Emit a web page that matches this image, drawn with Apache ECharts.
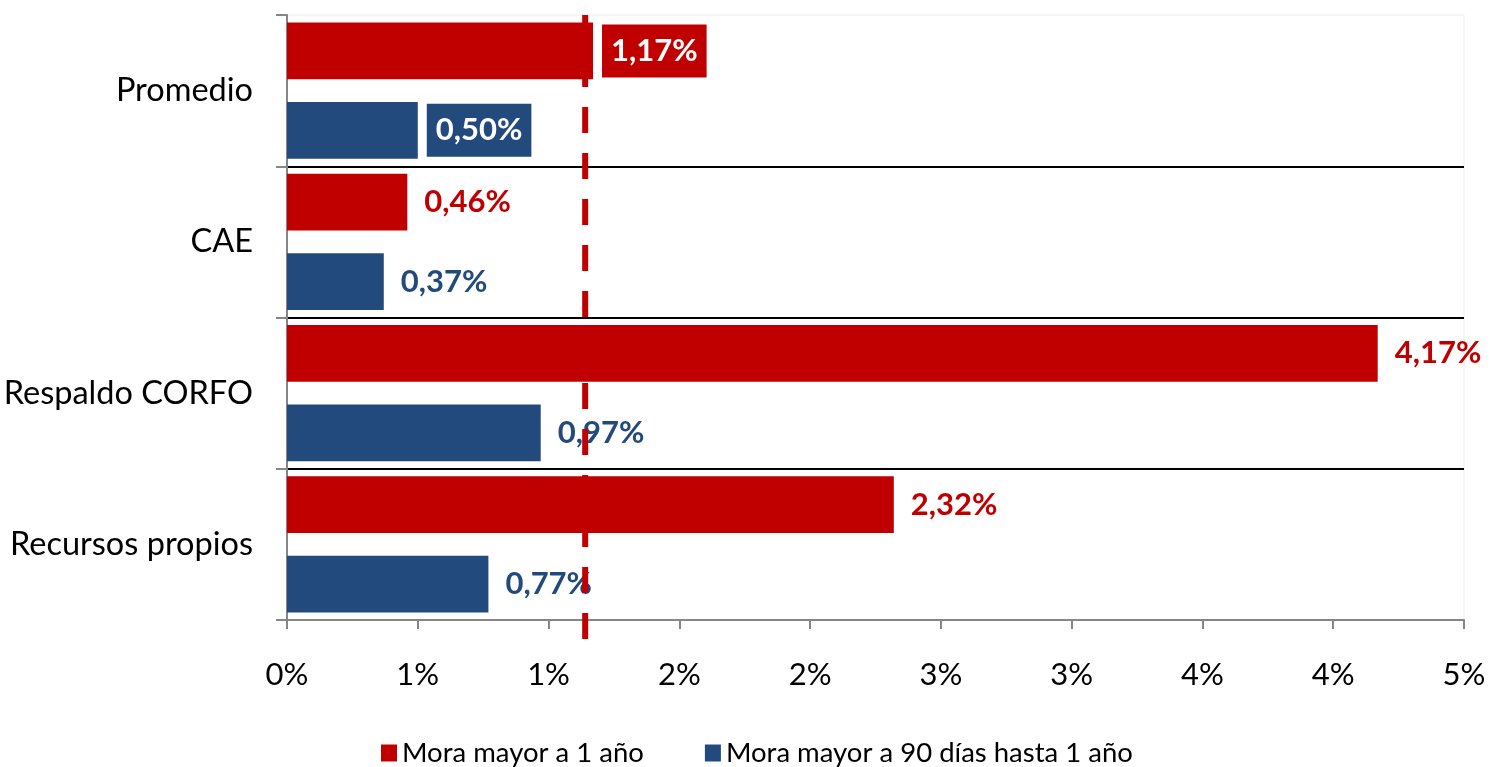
<!DOCTYPE html>
<html>
<head>
<meta charset="utf-8">
<script src="https://cdn.jsdelivr.net/npm/echarts@6/dist/echarts.min.js"></script>
<style>
  html, body { margin: 0; padding: 0; background: #fff; }
  #chart { width: 1490px; height: 767px; }
</style>
</head>
<body>
<div id="chart"></div>
<script>
// data
const categories = ["Promedio", "CAE", "Respaldo CORFO", "Recursos propios"];
const moraMayor1Ano = [1.17, 0.46, 4.17, 2.32];
const mora90Dias = [0.50, 0.37, 0.97, 0.77];
const referenceLine = 1.14;
const xTickLabels = ["0%", "1%", "1%", "2%", "2%", "3%", "3%", "4%", "4%", "5%"];
const seriesNames = ["Mora mayor a 1 año", "Mora mayor a 90 días hasta 1 año"];

const RED = "#c00000";
const BLUE = "#234a7c";
const GRAY = "#868686";
const FONT = "Lato";

const pct = (v) => v.toFixed(2).replace(".", ",") + "%";

// first row (Promedio) gets a filled label box
function barData(values, color) {
  return values.map((v, i) =>
    i === 0
      ? { value: v, label: { color: "#fff", backgroundColor: color, padding: [11, 9, 11, 9], distance: 9 } }
      : v
  );
}

function barSeries(name, values, color) {
  return {
    name: name,
    type: "bar",
    xAxisIndex: 0,
    yAxisIndex: 0,
    data: barData(values, color),
    barCategoryGap: "10%",
    barGap: "40%",
    itemStyle: { color: color },
    label: {
      show: true,
      position: "right",
      distance: 17,
      fontFamily: FONT,
      fontSize: 31,
      fontWeight: "bold",
      color: color,
      formatter: (p) => pct(p.value),
    },
  };
}

const chart = echarts.init(document.getElementById("chart"));

chart.setOption({
  animation: false,
  textStyle: { fontFamily: FONT },
  legend: {
    data: seriesNames,
    top: 739,
    left: 381,
    padding: 0,
    icon: "rect",
    itemWidth: 16,
    itemHeight: 17,
    itemGap: 61,
    textStyle: { fontFamily: FONT, fontSize: 27.5, color: "#000" },
  },
  grid: [
    { left: 287, right: 26, top: 15, bottom: 147, show: true, borderColor: "#ececec", borderWidth: 1 },
    { left: 287, right: 26, top: 15, bottom: 125 },
  ],
  xAxis: [
    {
      type: "value",
      gridIndex: 0,
      min: 0,
      max: 4.5,
      interval: 0.5,
      axisLine: { show: true, lineStyle: { color: GRAY, width: 2 } },
      axisTick: { show: true, length: 9, lineStyle: { color: GRAY, width: 2 } },
      splitLine: { show: false },
      axisLabel: {
        margin: 39,
        fontFamily: FONT,
        fontSize: 31,
        color: "#000",
        formatter: (v) => xTickLabels[Math.round(v / 0.5)],
      },
    },
    { type: "value", gridIndex: 1, min: 0, max: 4.5, show: false },
  ],
  yAxis: [
    {
      type: "category",
      gridIndex: 0,
      data: categories,
      inverse: true,
      axisLine: { show: true, lineStyle: { color: GRAY, width: 2 } },
      axisTick: { show: true, length: 11, lineStyle: { color: GRAY, width: 2 } },
      splitLine: { show: true, interval: (i) => i > 0, lineStyle: { color: "#000", width: 2 } },
      axisLabel: { margin: 34, fontFamily: FONT, fontSize: 32.5, color: "#000" },
    },
    { type: "value", gridIndex: 1, min: 0, max: 1, show: false },
  ],
  series: [
    barSeries(seriesNames[0], moraMayor1Ano, RED),
    barSeries(seriesNames[1], mora90Dias, BLUE),
    {
      name: "referencia",
      type: "line",
      xAxisIndex: 1,
      yAxisIndex: 1,
      data: [[referenceLine, 1], [referenceLine, 0]],
      symbol: "none",
      silent: true,
      z: 5,
      lineStyle: { color: RED, width: 6, type: [26, 20] },
    },
  ],
});
</script>
</body>
</html>
